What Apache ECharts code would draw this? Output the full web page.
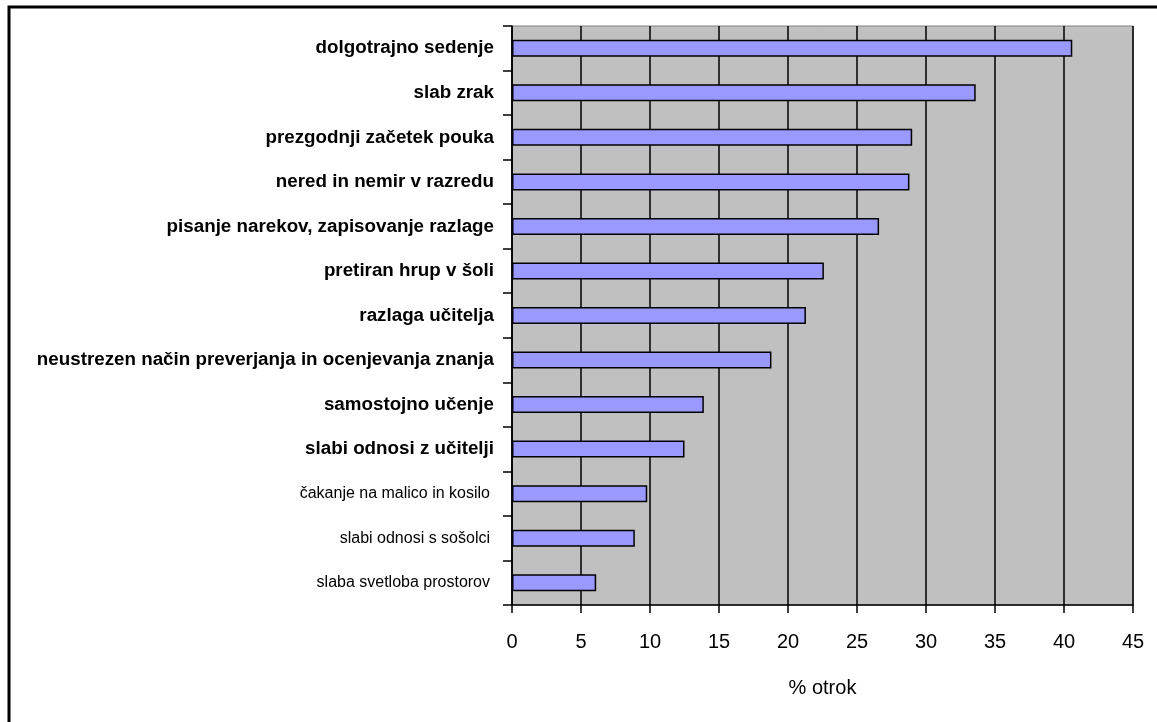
<!DOCTYPE html>
<html>
<head>
<meta charset="utf-8">
<script src="https://cdn.jsdelivr.net/npm/echarts@6/dist/echarts.min.js"></script>
<style>
html,body{margin:0;padding:0;background:#fff;}
#chart{width:1157px;height:722px;}
</style>
</head>
<body>
<div id="chart"></div>
<script>
// Categories, top to bottom
const categories = [
  'dolgotrajno sedenje',
  'slab zrak',
  'prezgodnji začetek pouka',
  'nered in nemir v razredu',
  'pisanje narekov, zapisovanje razlage',
  'pretiran hrup v šoli',
  'razlaga učitelja',
  'neustrezen način preverjanja in ocenjevanja znanja',
  'samostojno učenje',
  'slabi odnosi z učitelji',
  'čakanje na malico in kosilo',
  'slabi odnosi s sošolci',
  'slaba svetloba prostorov'
];
// % otrok
const values = [40.6, 33.6, 29.0, 28.8, 26.6, 22.6, 21.3, 18.8, 13.9, 12.5, 9.8, 8.9, 6.1];
// labels printed in bold in the source
const boldLabel = [true, true, true, true, true, true, true, true, true, true, false, false, false];
const xTicks = [0, 5, 10, 15, 20, 25, 30, 35, 40, 45];
const xAxisName = '% otrok';

const FONT = "'Liberation Sans', Arial, sans-serif";

const chart = echarts.init(document.getElementById('chart'));
chart.setOption({
  animation: false,
  backgroundColor: '#ffffff',
  graphic: [{
    type: 'rect',
    shape: { x: 9, y: 7, width: 1400, height: 900 },
    style: { fill: 'none', stroke: '#000', lineWidth: 3 },
    silent: true
  }],
  grid: {
    left: 512, right: 24, top: 26, bottom: 117,
    outerBoundsMode: 'none',
    containLabel: false,
    show: true, backgroundColor: '#C0C0C0', borderColor: '#808080', borderWidth: 1
  },
  xAxis: {
    type: 'value',
    min: xTicks[0], max: xTicks[xTicks.length - 1], interval: 5,
    name: xAxisName, nameLocation: 'middle', nameGap: 73,
    nameTextStyle: { fontFamily: FONT, fontSize: 20, color: '#000' },
    axisLine: { show: true, lineStyle: { color: '#000', width: 1.5 } },
    axisTick: { show: true, length: 8, lineStyle: { color: '#000', width: 1.5 } },
    axisLabel: { fontFamily: FONT, fontSize: 20, color: '#000', margin: 27 },
    splitLine: { show: true, lineStyle: { color: '#000', width: 1.5 } }
  },
  yAxis: {
    type: 'category',
    data: categories,
    inverse: true,
    axisLine: { show: true, lineStyle: { color: '#000', width: 1.5 } },
    axisTick: { show: true, length: 9, lineStyle: { color: '#000', width: 1.5 } },
    axisLabel: {
      margin: 18,
      formatter: function (v, i) { return (boldLabel[i] ? '{b|' : '{n|') + v + '}'; },
      rich: {
        b: { fontFamily: FONT, fontWeight: 'bold', fontSize: 18.8, color: '#000' },
        n: { fontFamily: FONT, fontWeight: 'normal', fontSize: 16, color: '#000', padding: [0, 4, 0, 0] }
      }
    },
    splitLine: { show: false }
  },
  series: [{
    type: 'bar',
    data: values,
    barWidth: 17,
    itemStyle: { color: '#9999FF', borderColor: '#000', borderWidth: 1.5 }
  }]
});
</script>
</body>
</html>
